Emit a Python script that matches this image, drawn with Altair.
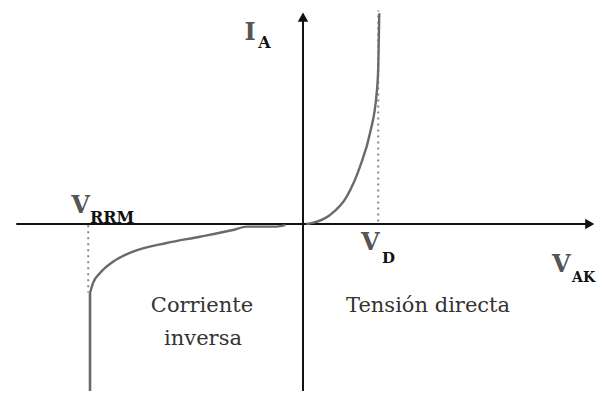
import altair as alt
import pandas as pd

# Forward conduction curve (V_AK, I_A) in arbitrary units
fwd_v = [0.05, 0.175, 0.458, 0.741, 0.966, 1.136, 1.249, 1.276, 1.293]
fwd_i = [0.0, 0.054, 0.375, 1.14, 2.39, 3.79, 5.46, 6.55, 8.78]

# Reverse (leakage) curve down to the breakdown knee
rev_v = [-0.3, -0.446, -0.954, -1.186, -1.746, -2.31, -2.88, -3.22, -3.44, -3.56, -3.61]
rev_i = [-0.05, -0.11, -0.11, -0.25, -0.53, -0.79, -1.15, -1.57, -2.04, -2.46, -2.875]

# Breakdown (vertical) segment
brk_v = [-3.61]
brk_i = [-2.875]
brk_i2 = [-6.96]

V_D = 1.275
V_RRM = -3.64
I_TOP = 8.9
I_RRM_KNEE = -2.85

X_DOM = [-5, 5]
Y_DOM = [-6.9583, 9]

SERIF = "DejaVu Serif"

fwd = pd.DataFrame({"V": fwd_v, "I": fwd_i})
rev = pd.DataFrame({"V": rev_v, "I": rev_i})
brk = pd.DataFrame({"V": brk_v, "I": brk_i, "I2": brk_i2})

xs = alt.Scale(domain=X_DOM, nice=False, zero=False)
ys = alt.Scale(domain=Y_DOM, nice=False, zero=False)

def X(f="V"):
    return alt.X(f + ":Q", scale=xs, axis=None)

def Y(f="I"):
    return alt.Y(f + ":Q", scale=ys, axis=None)

# Axes
haxis = pd.DataFrame({"V": [-4.86], "V2": [4.85], "I": [0.0]})
vaxis = pd.DataFrame({"V": [0.0], "I": [-6.96], "I2": [8.7]})
hline = alt.Chart(haxis).mark_rule(color="#111", strokeWidth=2).encode(
    x=X(), x2="V2:Q", y=Y())
vline = alt.Chart(vaxis).mark_rule(color="#111", strokeWidth=2).encode(
    x=X(), y=Y(), y2="I2:Q")

arrows = pd.DataFrame({"V": [4.86, 0.0], "I": [0.0, 8.62],
                       "shape": ["triangle-right", "triangle-up"]})
arrow_marks = alt.Chart(arrows).mark_point(filled=True, color="#111", size=110, opacity=1).encode(
    x=X(), y=Y(), shape=alt.Shape("shape:N", scale=None))

# Dotted guide lines
dots = pd.DataFrame({"V": [V_D, V_RRM], "I": [0.1, -0.05], "I2": [I_TOP, I_RRM_KNEE]})
dotted = alt.Chart(dots).mark_rule(color="#888", strokeWidth=2, strokeDash=[2, 4]).encode(
    x=X(), y=Y(), y2="I2:Q")

# Curves
fwd_line = alt.Chart(fwd).mark_line(color="#6a6a6a", strokeWidth=2.4, interpolate="monotone").encode(
    x=X(), y=Y())
rev_line = alt.Chart(rev).mark_line(color="#6a6a6a", strokeWidth=2.4, interpolate="monotone").encode(
    x=X(), y=Y())
brk_line = alt.Chart(brk).mark_rule(color="#6a6a6a", strokeWidth=2.6).encode(
    x=X(), y=Y(), y2="I2:Q")

# Labels
labels = pd.DataFrame({
    "V": [-3.93, 0.983, 4.22, -0.99],
    "I": [0.458, -1.083, -2.0, 7.67],
    "t": ["V", "V", "V", "I"],
})
subs = pd.DataFrame({
    "V": [-3.61, 1.339, 4.56, -0.76],
    "I": [0.042, -1.625, -2.417, 7.33],
    "t": ["RRM", "D", "AK", "A"],
    "s": [16, 15, 14, 16],
})
big = alt.Chart(labels).mark_text(font=SERIF, fontSize=24, color="#555",
                                  align="left", baseline="alphabetic", fontWeight="bold").encode(
    x=X(), y=Y(), text="t:N")
small = alt.Chart(subs).mark_text(font=SERIF, color="#111",
                                  align="left", baseline="alphabetic", fontWeight="bold").encode(
    x=X(), y=Y(), text="t:N", size=alt.Size("s:Q", scale=None))

regions = pd.DataFrame({
    "V": [2.119, -1.712, -1.695],
    "I": [-3.667, -3.667, -5.04],
    "t": ["Tensión directa", "Corriente", "inversa"],
})
region_txt = alt.Chart(regions).mark_text(font=SERIF, fontSize=21, color="#333",
                                          align="center", baseline="alphabetic").encode(
    x=X(), y=Y(), text="t:N")

chart = alt.layer(
    dotted, hline, vline, arrow_marks, fwd_line, rev_line, brk_line, big, small, region_txt
).properties(
    width=590, height=383, padding=0, autosize=alt.AutoSizeParams(type="none")
).configure_view(stroke=None)

chart.save("out.html", embed_options={"renderer": "svg", "actions": False})
